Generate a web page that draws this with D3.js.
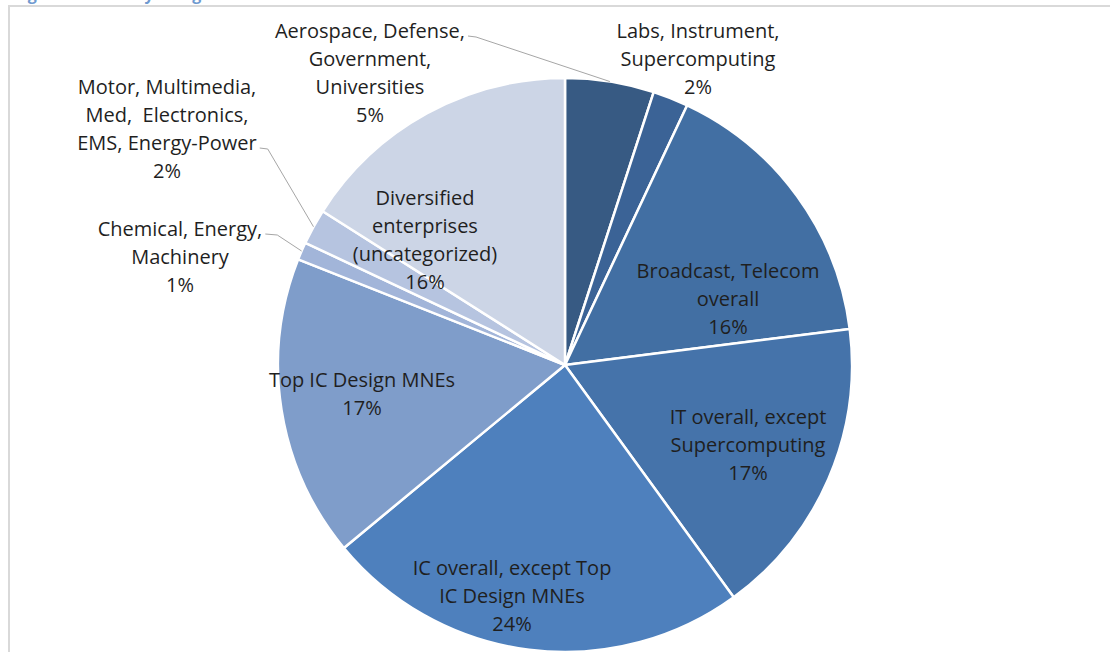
<!DOCTYPE html>
<html>
<head>
<meta charset="utf-8">
<script src="https://cdn.jsdelivr.net/npm/d3@7"></script>
<style>
  html, body { margin: 0; padding: 0; background: #ffffff; }
  svg { display: block; }
  text { font-family: "Open Sans", Lato, sans-serif; }
</style>
</head>
<body>
<svg id="chart" width="1110" height="652"></svg>
<script>
// Industry categories and their share (%), clockwise from 12 o'clock
const categories = [
  "Aerospace, Defense, Government, Universities",
  "Labs, Instrument, Supercomputing",
  "Broadcast, Telecom overall",
  "IT overall, except Supercomputing",
  "IC overall, except Top IC Design MNEs",
  "Top IC Design MNEs",
  "Chemical, Energy, Machinery",
  "Motor, Multimedia, Med, Electronics, EMS, Energy-Power",
  "Diversified enterprises (uncategorized)"
];
const shares = [5, 2, 16, 17, 24, 17, 1, 2, 16];

// How each label is broken into lines
const labelLines = [
  ["Aerospace, Defense,", "Government,", "Universities"],
  ["Labs, Instrument,", "Supercomputing"],
  ["Broadcast, Telecom", "overall"],
  ["IT overall, except", "Supercomputing"],
  ["IC overall, except Top", "IC Design MNEs"],
  ["Top IC Design MNEs"],
  ["Chemical, Energy,", "Machinery"],
  ["Motor, Multimedia,", "Med,  Electronics,", "EMS, Energy-Power"],
  ["Diversified", "enterprises", "(uncategorized)"]
];

const sliceColors = [
  "#375a83", "#3b6396", "#426fa3", "#4573aa", "#4e80bd",
  "#7f9dca", "#a2b5d9", "#b6c4e0", "#ccd5e6"
];

// Label block layout: centre x, y of first line, and whether a leader line is drawn
const labelLayout = [
  { x: 370, y: 30, leader: true, from: 0, flat: 8 },
  { x: 698, y: 30, leader: false },
  { x: 728, y: 270, leader: false },
  { x: 748, y: 416, leader: false },
  { x: 512, y: 567, leader: false },
  { x: 362, y: 379, leader: false },
  { x: 180, y: 228, leader: true, from: 0, flat: 12 },
  { x: 167, y: 86, leader: true, from: 2, flat: 8 },
  { x: 425, y: 197, leader: false }
];

const width = 1110, height = 652;
const cx = 565, cy = 365, radius = 287;
const lineHeight = 28;
const fontSize = 20;

const svg = d3.select("#chart");

// Caption above the chart frame (clipped by the page edge)
svg.append("text")
  .attr("x", 14).attr("y", 0)
  .attr("fill", "#6f9ad0")
  .attr("font-size", 16)
  .attr("font-weight", "bold")
  .text("Figure 4: Industry categories of the customers");

// Chart frame
svg.append("rect")
  .attr("x", 9).attr("y", 6)
  .attr("width", width + 20).attr("height", height + 20)
  .attr("fill", "#ffffff")
  .attr("stroke", "#d9d9d9")
  .attr("stroke-width", 2);

const data = categories.map((c, i) => ({ name: c, value: shares[i], i }));

const pie = d3.pie()
  .sort(null)
  .value(d => d.value)
  .startAngle(0)
  .endAngle(2 * Math.PI);

const arc = d3.arc().innerRadius(0).outerRadius(radius);
const arcs = pie(data);

const g = svg.append("g").attr("transform", `translate(${cx},${cy})`);

g.selectAll("path.slice")
  .data(arcs)
  .join("path")
  .attr("class", "slice")
  .attr("d", arc)
  .attr("fill", d => sliceColors[d.data.i])
  .attr("stroke", "#ffffff")
  .attr("stroke-width", 2.5)
  .attr("stroke-linejoin", "round");

// Point on the pie rim at a slice's middle angle
function rimPoint(d) {
  const a = (d.startAngle + d.endAngle) / 2;
  return [cx + radius * Math.sin(a), cy - radius * Math.cos(a)];
}

const labels = svg.append("g")
  .attr("font-size", fontSize)
  .attr("fill", "#1f1f1f")
  .attr("text-anchor", "middle");

arcs.forEach(d => {
  const i = d.data.i;
  const lay = labelLayout[i];
  const lines = labelLines[i].concat([Math.round(d.data.value) + "%"]);
  const t = labels.append("text")
    .attr("x", lay.x)
    .attr("y", lay.y)
    .attr("dominant-baseline", "central")
    .style("white-space", "pre");
  lines.forEach((ln, k) => {
    t.append("tspan")
      .attr("x", lay.x)
      .attr("dy", k === 0 ? 0 : lineHeight)
      .attr("xml:space", "preserve")
      .text(ln);
  });

  if (lay.leader) {
    // leader starts just after the end of the chosen label line
    const tsp = t.selectAll("tspan").nodes()[lay.from];
    const w = tsp.getComputedTextLength();
    const sx = lay.x + w / 2 + 3;
    const sy = lay.y + lay.from * lineHeight + 6;
    const [ex, ey] = rimPoint(d);
    svg.append("polyline")
      .attr("points", [[sx, sy], [sx + lay.flat, sy + 1], [ex, ey]].map(p => p.join(",")).join(" "))
      .attr("fill", "none")
      .attr("stroke", "#a6a6a6")
      .attr("stroke-width", 1);
  }
});
</script>
</body>
</html>
